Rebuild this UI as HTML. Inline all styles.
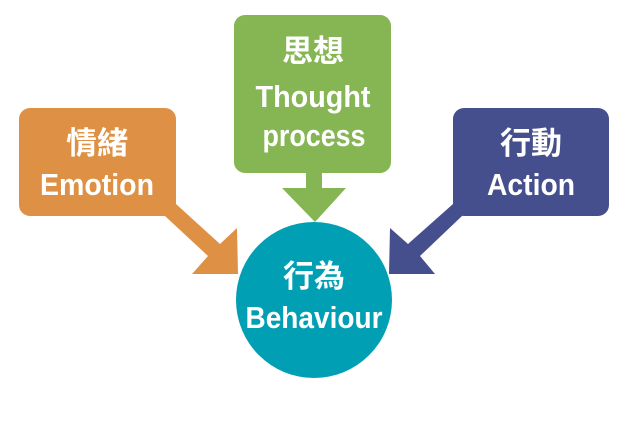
<!DOCTYPE html>
<html><head><meta charset="utf-8"><style>
html,body{margin:0;padding:0;background:#fff;width:640px;height:428px;overflow:hidden}
text{font-family:"Liberation Sans","Noto Sans CJK TC",sans-serif;font-weight:bold;fill:#fff;text-anchor:middle}
</style></head><body>
<svg width="640" height="428" viewBox="0 0 640 428" xmlns="http://www.w3.org/2000/svg">
<rect x="19" y="108" width="157" height="108" rx="11" fill="#de9145"/>
<polygon points="160,212 176,204 220,244 237,228 238,274 192,274 208,256 165,216" fill="#de9145"/>
<rect x="234" y="15" width="157" height="158" rx="11" fill="#86b553"/>
<polygon points="306,170 322,170 322,188 346,188 315,222 282,188 306,188" fill="#86b553"/>
<rect x="453" y="108" width="156" height="108" rx="11" fill="#464f8d"/>
<polygon points="468,212 453,204 408,244 390,228 389,274 435,274 420,256 462,216" fill="#464f8d"/>
<ellipse cx="314" cy="300" rx="78" ry="78" fill="#009fb4"/>
<text x="97" y="154" font-size="31">情緒</text>
<text x="97" y="195" font-size="31" textLength="114" lengthAdjust="spacingAndGlyphs">Emotion</text>
<text x="313" y="62" font-size="31">思想</text>
<text x="313" y="107" font-size="31" textLength="115" lengthAdjust="spacingAndGlyphs">Thought</text>
<text x="314" y="146" font-size="31" textLength="103" lengthAdjust="spacingAndGlyphs">process</text>
<text x="531" y="154" font-size="31">行動</text>
<text x="531" y="195" font-size="31" textLength="88" lengthAdjust="spacingAndGlyphs">Action</text>
<text x="314" y="287" font-size="31">行為</text>
<text x="314" y="328" font-size="31" textLength="137" lengthAdjust="spacingAndGlyphs">Behaviour</text>
</svg>
</body></html>
